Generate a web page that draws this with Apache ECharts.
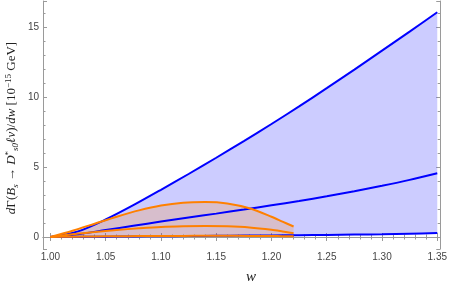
<!DOCTYPE html>
<html><head><meta charset="utf-8">
<script src="https://cdn.jsdelivr.net/npm/echarts@6/dist/echarts.min.js"></script>
<style>html,body{margin:0;padding:0;background:#fff}#c{width:450px;height:292px}</style>
</head><body><div id="c"></div>
<script>
// ---- data ----
const wBlue      = [1.000,1.025,1.050,1.075,1.100,1.125,1.150,1.175,1.200,1.225,1.250,1.275,1.300,1.325,1.350];
const blueUpper  = [0.00, 0.40, 1.25, 2.27, 3.37, 4.50, 5.66, 6.85, 8.07, 9.33, 10.63, 11.96, 13.31, 14.67, 16.05];
const blueMid    = [0.00, 0.20, 0.50, 0.80, 1.10, 1.40, 1.67, 1.96, 2.26, 2.57, 2.91, 3.27, 3.66, 4.08, 4.55];
const blueLower  = [0.00, 0.01, 0.025,0.04, 0.055,0.07, 0.085,0.10, 0.115,0.13, 0.15, 0.175,0.20, 0.24, 0.28];
const wOrange     = [1.00, 1.02, 1.04, 1.06, 1.08, 1.10, 1.12, 1.14, 1.16, 1.18, 1.20, 1.21, 1.22];
const orangeUpper = [0.00, 0.45, 0.95, 1.45, 1.90, 2.25, 2.45, 2.50, 2.40, 2.05, 1.45, 1.10, 0.75];
const orangeMid   = [0.00, 0.20, 0.35, 0.50, 0.62, 0.72, 0.77, 0.79, 0.76, 0.68, 0.52, 0.40, 0.27];
const orangeLower = [0.00, 0.02, 0.04, 0.055,0.065,0.075,0.08, 0.085,0.085,0.08, 0.07, 0.06, 0.05];
const xTickStep = 0.05;
const yTickStep = 5;

// ---- helpers ----
const pairs = (xs, ys) => xs.map((x, i) => [x, ys[i]]);
const isMultiple = (v, s) => Math.abs(v / s - Math.round(v / s)) < 1e-6;

const BLUE = '#0000ff', ORANGE = '#ff8000', FRAME = '#9a9a9a', LABEL = '#444';

const baseAxis = {
  axisLine: {show: true, lineStyle: {color: FRAME, width: 1}},
  axisTick: {show: true, inside: true, length: 4, lineStyle: {color: FRAME}},
  minorTick: {show: true, splitNumber: 5, length: 2.5, lineStyle: {color: FRAME}},
  splitLine: {show: false},
  minorSplitLine: {show: false}
};
const X = {min: 0.99328, max: 1.35269, splitNumber: 7};
const Y = {min: -0.857, max: 16.857, splitNumber: 4};

const chart = echarts.init(document.getElementById('c'), null, {renderer: 'canvas'});

function lineSeries(xs, ys, color) {
  return {
    type: 'line', data: pairs(xs, ys), showSymbol: false, symbol: 'none', smooth: 0.3,
    lineStyle: {color: color, width: 2}, silent: true
  };
}
function bandSeries(xs, up, lo, fill) {
  return {
    type: 'custom', coordinateSystem: 'cartesian2d', silent: true, clip: true,
    data: [[xs[0], up[0]]], encode: {x: 0, y: 1},
    renderItem: function (params, api) {
      const top = xs.map((x, i) => api.coord([x, up[i]]));
      const bot = xs.map((x, i) => api.coord([x, lo[i]])).reverse();
      return {type: 'polygon', shape: {points: top.concat(bot)}, style: {fill: fill}};
    }
  };
}

chart.setOption({
  animation: false,
  grid: {left: 43, right: 6, top: 1, bottom: 43, containLabel: false},
  xAxis: [
    Object.assign({}, baseAxis, {type: 'value', position: 'bottom', min: X.min, max: X.max, splitNumber: X.splitNumber,
      axisLabel: {show: true, margin: 3, color: LABEL, fontSize: 10, fontFamily: 'Liberation Sans',
        showMinLabel: false, showMaxLabel: false,
        formatter: v => isMultiple(v, xTickStep) ? v.toFixed(2) : ''}}),
    Object.assign({}, baseAxis, {type: 'value', position: 'top', min: X.min, max: X.max, splitNumber: X.splitNumber,
      axisLabel: {show: false}})
  ],
  yAxis: [
    Object.assign({}, baseAxis, {type: 'value', position: 'left', min: Y.min, max: Y.max, splitNumber: Y.splitNumber,
      axisLabel: {show: true, margin: 4, color: LABEL, fontSize: 10, fontFamily: 'Liberation Sans',
        showMinLabel: false, showMaxLabel: false,
        formatter: v => isMultiple(v, yTickStep) ? String(Math.round(v)) : ''}}),
    Object.assign({}, baseAxis, {type: 'value', position: 'right', min: Y.min, max: Y.max, splitNumber: Y.splitNumber,
      axisLabel: {show: false}})
  ],
  graphic: [
    {type: 'text', left: 246, top: 270, style: {text: 'w', font: 'italic 15px "Liberation Serif"', fill: '#222'}},
    {type: 'text', x: 12, y: 128, rotation: Math.PI / 2,
      style: {
        text: '{i|d}{n|Γ(}{i|B}{sb|s}{n| → }{i|D}{sp|*}{sb|s0}{i|ℓν}{n|)/}{i|dw}{n| [10}{sp|−15}{n| GeV]}',
        align: 'center', verticalAlign: 'middle',
        rich: {
          i: {font: 'italic 13px "Liberation Serif"', fill: '#222', lineHeight: 18, verticalAlign: 'middle'},
          n: {font: '13px "Liberation Serif"', fill: '#222', lineHeight: 18, verticalAlign: 'middle'},
          sb: {font: 'italic 9px "Liberation Serif"', fill: '#222', lineHeight: 18, verticalAlign: 'bottom', padding: [0,0,1,0]},
          sp: {font: '9px "Liberation Serif"', fill: '#222', lineHeight: 18, verticalAlign: 'top', padding: [1,0,0,0]}
        }
      }}
  ],
  series: [
    bandSeries(wBlue, blueUpper, blueLower, 'rgba(0,0,255,0.2)'),
    lineSeries(wBlue, blueUpper, BLUE),
    lineSeries(wBlue, blueMid, BLUE),
    lineSeries(wBlue, blueLower, BLUE),
    bandSeries(wOrange, orangeUpper, orangeLower, 'rgba(255,128,0,0.2)'),
    lineSeries(wOrange, orangeUpper, ORANGE),
    lineSeries(wOrange, orangeMid, ORANGE),
    lineSeries(wOrange, orangeLower, ORANGE)
  ]
});
</script>
</body></html>
